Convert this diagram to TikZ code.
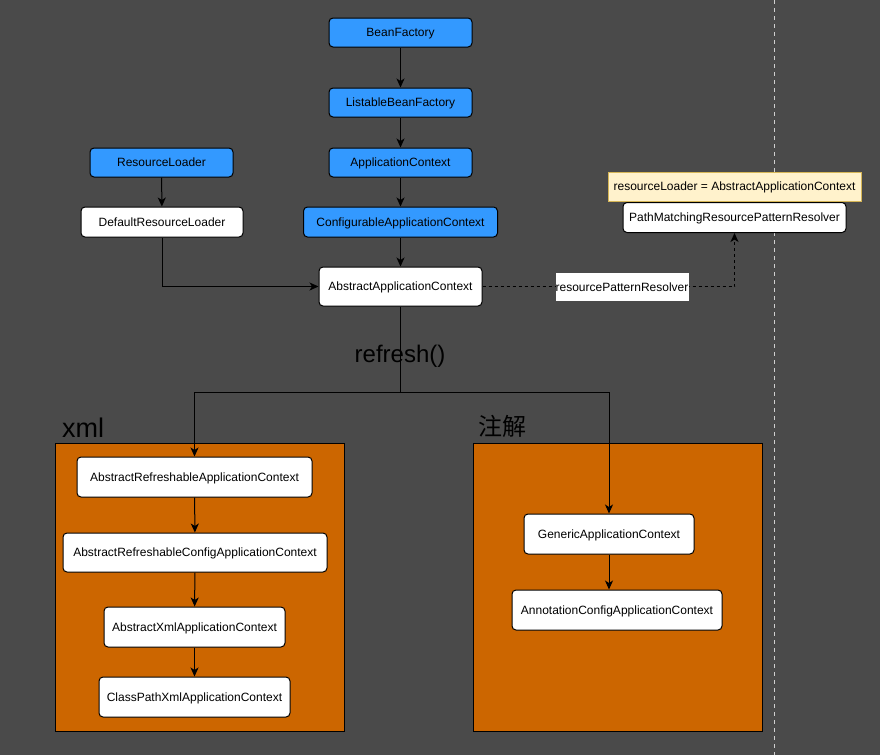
\documentclass[tikz,border=0pt]{standalone}
\usepackage{fontspec}
\setmainfont{Liberation Sans}
\newfontfamily\cjkfont{Noto Sans CJK SC}
\usetikzlibrary{arrows.meta}

\definecolor{canvas}{HTML}{4A4A4A}
\definecolor{ifaceblue}{HTML}{3399FF}
\definecolor{groupfill}{HTML}{CC6600}
\definecolor{notefill}{HTML}{FFF2CC}
\definecolor{noteline}{HTML}{D6B656}
\definecolor{guide}{HTML}{D0D0D0}

\tikzset{
  label12/.style={font=\fontsize{12}{14}\selectfont, text height=8.6pt, text depth=0pt},
  box/.style={draw=black, line width=1pt, rounded corners=4pt, inner sep=0pt,
    label12, text=black},
  iface/.style={box, fill=ifaceblue},
  impl/.style={box, fill=white},
  group/.style={draw=black, line width=1pt, fill=groupfill},
  link/.style={line width=1pt, draw=black, -{Stealth[length=9pt,width=8pt,inset=2.5pt]}},
  plain/.style={line width=1pt, draw=black},
  grouptitle/.style={anchor=base west, inner sep=0pt, text=black},
}

\begin{document}
\begin{tikzpicture}[x=1pt, y=-1pt]
  % canvas
  \useasboundingbox (0,0) rectangle (880,755);
  \fill[canvas] (0,0) rectangle (880,755);

  % page guide on the right
  \draw[guide, line width=1pt, dash pattern=on 4pt off 4pt] (774,0) -- (774,755);

  % group containers
  \draw[group] (55,443) rectangle (344.5,731.5);
  \draw[group] (473,443) rectangle (762,731.5);
  \node[grouptitle, font=\fontsize{27}{30}\selectfont] (xmltitle) at (62,437) {xml};
  \node[grouptitle, font=\cjkfont\fontsize{24}{28}\selectfont] (annotitle) at (478,435) {注解};

  % interface hierarchy
  \node[iface, minimum width=143pt, minimum height=29pt] (bf)  at (400.5,32.5)  {BeanFactory};
  \node[iface, minimum width=143pt, minimum height=29pt] (lbf) at (400.5,102.5) {ListableBeanFactory};
  \node[iface, minimum width=143pt, minimum height=29pt] (ac)  at (400.5,162.5) {ApplicationContext};
  \node[iface, minimum width=194pt, minimum height=30pt] (cac) at (400.5,222)   {ConfigurableApplicationContext};
  \node[iface, minimum width=143pt, minimum height=29pt] (rl)  at (161.5,162.5) {ResourceLoader};
  \node[impl,  minimum width=162pt, minimum height=30pt] (drl) at (162,222)     {DefaultResourceLoader};
  \node[impl,  minimum width=163pt, minimum height=39pt] (aac) at (400.5,286.5) {AbstractApplicationContext};

  % resource pattern resolver
  \node[draw=noteline, line width=1pt, fill=notefill, inner sep=0pt,
        minimum width=253pt, minimum height=29pt, label12]
        (note) at (734.5,186.5) {resourceLoader = AbstractApplicationContext};
  \node[impl, minimum width=223pt, minimum height=30pt] (pmr) at (734.5,217.5) {PathMatchingResourcePatternResolver};

  % xml based contexts
  \node[impl, minimum width=235pt, minimum height=40pt] (arac)  at (194.5,477)   {AbstractRefreshableApplicationContext};
  \node[impl, minimum width=264pt, minimum height=39pt] (arcac) at (195,552.5)   {AbstractRefreshableConfigApplicationContext};
  \node[impl, minimum width=181pt, minimum height=40pt] (axac)  at (194.5,627)   {AbstractXmlApplicationContext};
  \node[impl, minimum width=191pt, minimum height=40pt] (cpxac) at (194.5,697)   {ClassPathXmlApplicationContext};

  % annotation based contexts
  \node[impl, minimum width=170pt, minimum height=40pt] (gac)  at (609,534) {GenericApplicationContext};
  \node[impl, minimum width=210pt, minimum height=40pt] (acac) at (617,610) {AnnotationConfigApplicationContext};

  % inheritance arrows
  \draw[link] (bf) -- (lbf);
  \draw[link] (lbf) -- (ac);
  \draw[link] (ac) -- (cac);
  \draw[link] (cac) -- (aac);
  \draw[link] (rl) -- (drl);
  \draw[link] (drl.south) |- (aac.west);
  \draw[link] (arac) -- (arcac);
  \draw[link] (arcac) -- (axac);
  \draw[link] (axac) -- (cpxac);
  \draw[link] (gac.south) -- (gac.south |- acac.north);

  % field reference
  \draw[link, dash pattern=on 3pt off 3pt] (aac.east) -| (pmr.south);
  \node[fill=white, inner sep=0pt, minimum width=133pt, minimum height=28pt,
        label12] (field) at (622,287) {resourcePatternResolver};

  % refresh() branches
  \coordinate (split) at (400.5,392);
  \draw[plain] (aac.south) -- (split);
  \node[font=\fontsize{24}{28}\selectfont, text=black, inner sep=0pt] (refresh) at (400,356) {refresh()};
  \draw[link] (split) -| (arac.north);
  \draw[link] (split) -| (gac.north);
\end{tikzpicture}
\end{document}
